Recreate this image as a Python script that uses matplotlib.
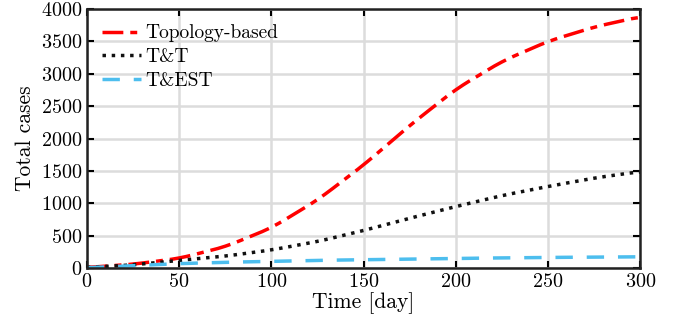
import numpy as np
import matplotlib
matplotlib.use("Agg")
import matplotlib.pyplot as plt

plt.rcParams['font.family'] = ['cmr10', 'DejaVu Serif']
plt.rcParams['mathtext.fontset'] = 'cm'
plt.rcParams['axes.formatter.use_mathtext'] = True

days = [0, 25, 50, 75, 100, 125, 150, 175, 200, 225, 250, 275, 300]
topology = [10, 60, 150, 330, 620, 1050, 1590, 2200, 2760, 3190, 3500, 3720, 3880]
tt = [10, 50, 120, 185, 280, 410, 580, 770, 950, 1120, 1260, 1390, 1490]
test = [5, 40, 70, 90, 105, 120, 130, 140, 150, 158, 165, 170, 175]

# smooth the read-off points for drawing
t = np.linspace(0, 300, 301)
y_top = np.interp(t, days, topology)
y_tt = np.interp(t, days, tt)
y_test = np.interp(t, days, test)
k = np.ones(15) / 15
def smooth(y):
    p = np.pad(y, 7, mode='edge')
    return np.convolve(p, k, mode='valid')

fig = plt.figure(figsize=(6.84, 3.29), dpi=100)
ax = fig.add_axes([0.127, 0.185, 0.809, 0.788])

ax.plot(t, smooth(y_top), color='#ff0000', linestyle=(0, (6, 2, 2, 2)), linewidth=2.5, label='Topology-based')
ax.plot(t, smooth(y_tt), color='#111111', linestyle=':', linewidth=2.5, label='T&T')
ax.plot(t, smooth(y_test), color='#4dbeee', linestyle=(0, (5, 4)), linewidth=2.5, label='T&EST')

ax.set_xlim(0, 300)
ax.set_ylim(0, 4000)
ax.set_xticks(np.arange(0, 301, 50))
ax.set_yticks(np.arange(0, 4001, 500))
ax.grid(True, color='#dcdcdc', linewidth=1.8)
ax.set_axisbelow(True)
for s in ax.spines.values():
    s.set_linewidth(1.8)
    s.set_color('#222222')
ax.tick_params(direction='in', top=True, right=True, length=5, width=1.5, labelsize=14.5)
ax.set_xlabel('Time [day]', fontsize=15.5, labelpad=1)
ax.set_ylabel('Total cases', fontsize=15.5, labelpad=4)
ax.legend(loc='upper left', frameon=False, fontsize=14, handlelength=2.0,
          handletextpad=0.2, labelspacing=0.3, borderaxespad=0.4)

fig.savefig('out.png', dpi=100)
